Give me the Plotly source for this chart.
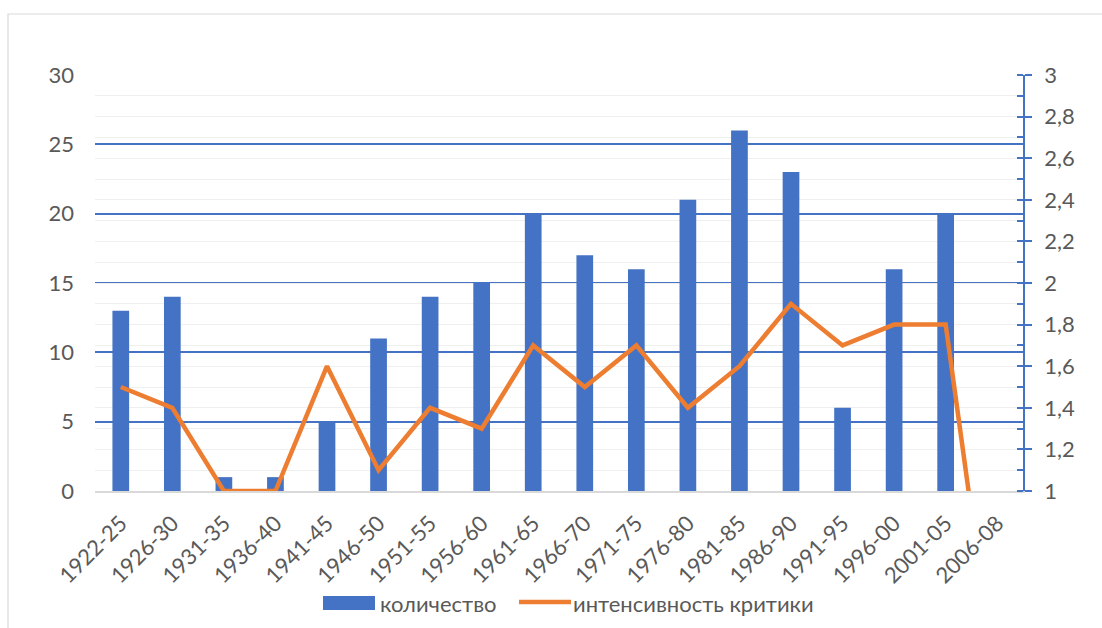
import plotly.graph_objects as go

categories = ["1922-25", "1926-30", "1931-35", "1936-40", "1941-45", "1946-50",
              "1951-55", "1956-60", "1961-65", "1966-70", "1971-75", "1976-80",
              "1981-85", "1986-90", "1991-95", "1996-00", "2001-05", "2006-08"]
counts = [13, 14, 1, 1, 5, 11, 14, 15, 20, 17, 16, 21, 26, 23, 6, 16, 20, 0]
intensity = [1.5, 1.4, 1.0, 1.0, 1.6, 1.1, 1.4, 1.3, 1.7, 1.5, 1.7, 1.4,
             1.6, 1.9, 1.7, 1.8, 1.8, 0.0]
left_ticks = [0, 5, 10, 15, 20, 25, 30]
right_tickvals = [1, 1.2, 1.4, 1.6, 1.8, 2, 2.2, 2.4, 2.6, 2.8, 3]
right_ticktext = ["1", "1,2", "1,4", "1,6", "1,8", "2", "2,2", "2,4", "2,6", "2,8", "3"]
series_names = ["количество", "интенсивность критики"]

FONT = "Lato, Carlito, 'Open Sans', sans-serif"
GREY = "#595959"
BLUE = "#4472C4"
ORANGE = "#ED7D31"
FS = 22

fig = go.Figure()
fig.add_trace(go.Bar(x=categories, y=counts, name=series_names[0],
                     marker=dict(color=BLUE, line=dict(width=0)), yaxis="y",
                     showlegend=False))
fig.add_trace(go.Scatter(x=categories, y=intensity, name=series_names[1],
                         mode="lines", line=dict(color=ORANGE, width=4.5),
                         yaxis="y2", showlegend=False))

W, H = 1102, 628
L, R, T, B = 95, 1023, 75, 491
pw, ph = R - L, B - T

def px_x(v):
    return (v - L) / pw

def px_y(v):
    return (B - v) / ph

LEG_Y = 603
shapes = [
    dict(type="rect", xref="paper", yref="paper",
         x0=px_x(8), x1=px_x(W + 20), y0=px_y(H + 20), y1=px_y(14),
         line=dict(color="#D9D9D9", width=1.2), fillcolor="rgba(0,0,0,0)",
         layer="below"),
    dict(type="rect", xref="paper", yref="paper",
         x0=px_x(323), x1=px_x(375), y0=px_y(LEG_Y + 7), y1=px_y(LEG_Y - 7),
         line=dict(width=0), fillcolor=BLUE),
    dict(type="line", xref="paper", yref="paper",
         x0=px_x(519), x1=px_x(571), y0=px_y(LEG_Y - 1), y1=px_y(LEG_Y - 1),
         line=dict(color=ORANGE, width=4.5)),
]
annotations = [
    dict(text=series_names[0], xref="paper", yref="paper", x=px_x(378), y=px_y(LEG_Y),
         xanchor="left", yanchor="middle", showarrow=False,
         font=dict(family=FONT, size=FS, color=GREY)),
    dict(text=series_names[1], xref="paper", yref="paper", x=px_x(571), y=px_y(LEG_Y),
         xanchor="left", yanchor="middle", showarrow=False,
         font=dict(family=FONT, size=FS, color=GREY)),
]

fig.update_layout(
    width=W, height=H,
    margin=dict(l=L, r=W - R, t=T, b=H - B, autoexpand=False),
    paper_bgcolor="white", plot_bgcolor="white",
    font=dict(family=FONT, size=FS, color=GREY),
    bargap=0.676,
    showlegend=False,
    xaxis=dict(type="category", tickangle=-45, showgrid=False,
               showline=True, linecolor="#D9D9D9", linewidth=1.5,
               ticks="", ticklabelstandoff=9,
               tickfont=dict(family=FONT, size=FS, color=GREY),
               range=[-0.5, len(categories) - 0.5], fixedrange=True),
    yaxis=dict(range=[0, 30], tickvals=left_ticks, showgrid=True,
               gridcolor=BLUE, gridwidth=1.6, zeroline=False, showline=False,
               ticks="", ticklabelstandoff=20,
               tickfont=dict(family=FONT, size=FS, color=GREY)),
    yaxis2=dict(range=[1, 3], overlaying="y", side="right",
                tickvals=right_tickvals, ticktext=right_ticktext,
                showgrid=True, gridcolor="#EFEFEF", gridwidth=1.2,
                zeroline=False, showline=True, linecolor=BLUE, linewidth=1.5,
                ticks="outside", ticklen=7, tickcolor=BLUE, tickwidth=1.5,
                ticklabelstandoff=8,
                minor=dict(dtick=0.1, ticks="inside", ticklen=6, tickcolor=BLUE,
                           tickwidth=1.5, showgrid=True, gridcolor="#EFEFEF",
                           gridwidth=1.2),
                tickfont=dict(family=FONT, size=FS, color=GREY)),
    shapes=shapes,
    annotations=annotations,
)

fig.write_html("out.html", config={"displayModeBar": False},
               post_script="document.body.style.margin='0';document.body.style.overflow='hidden';")
